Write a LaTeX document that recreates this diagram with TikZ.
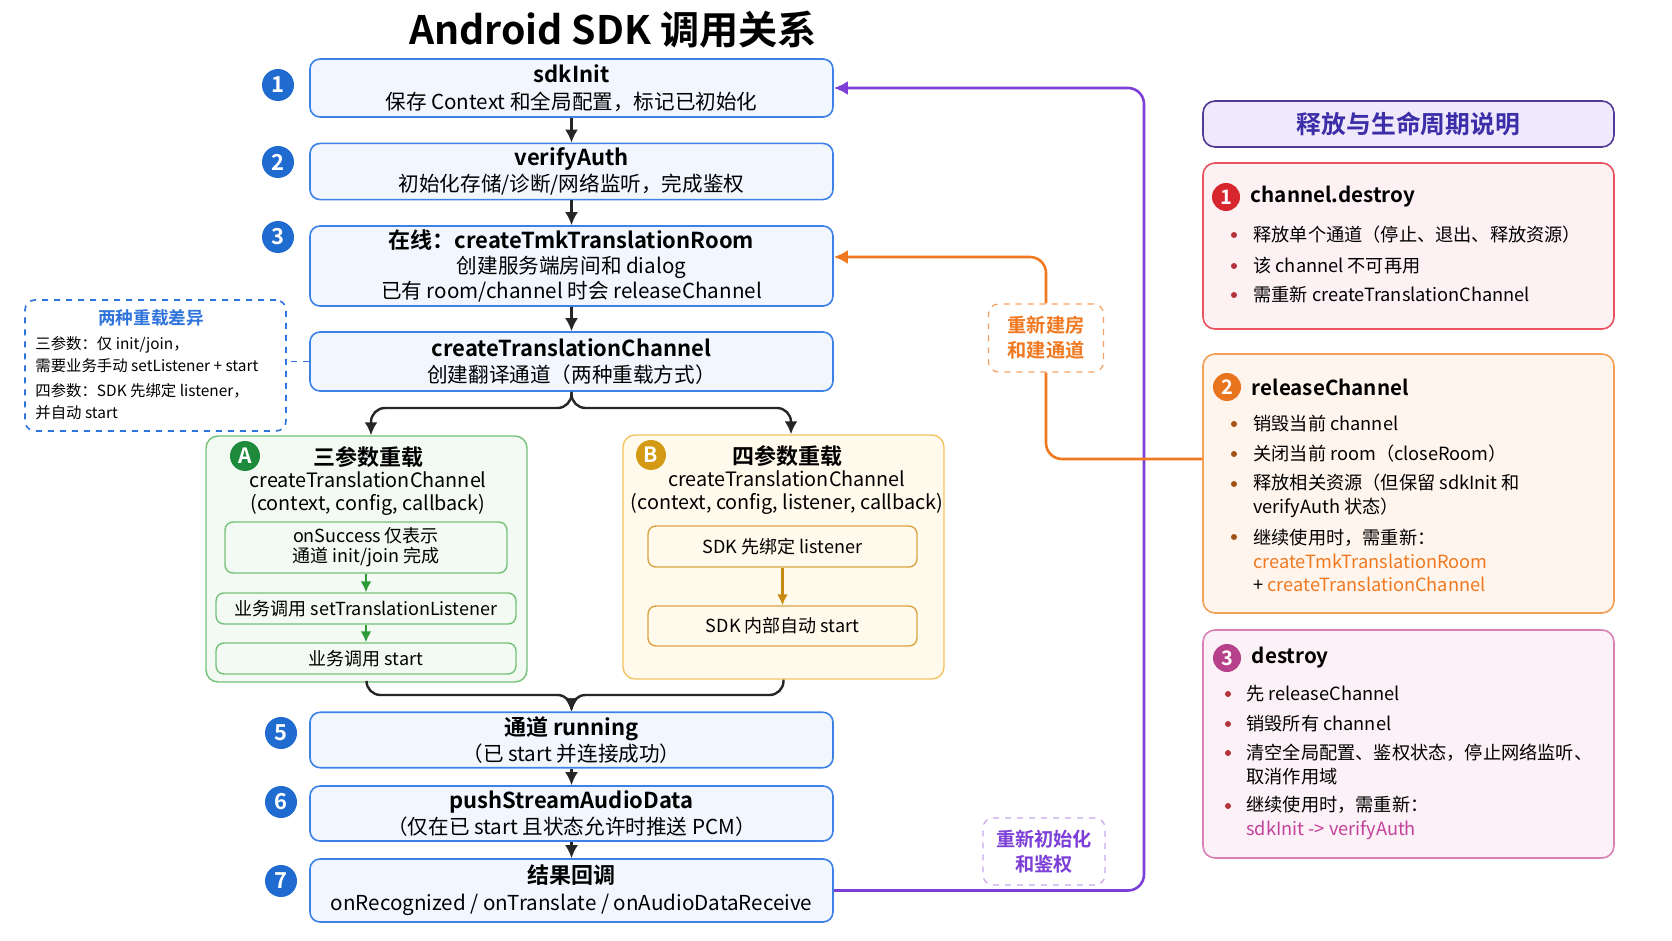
\documentclass[tikz,border=0pt]{standalone}
\usepackage{fontspec}
\setmainfont{Noto Sans CJK SC}[BoldFont={Noto Sans CJK SC Bold}]
\usetikzlibrary{arrows.meta,positioning,calc}

\definecolor{flowblue}{HTML}{3C82E6}
\definecolor{flowfill}{HTML}{F2F7FF}
\definecolor{numblue}{HTML}{1F6BD0}
\definecolor{diffblue}{HTML}{2F74DC}
\definecolor{aline}{HTML}{74C278}
\definecolor{afill}{HTML}{F3FAF3}
\definecolor{adotc}{HTML}{1E8A3C}
\definecolor{aarrow}{HTML}{2E9B3A}
\definecolor{bline}{HTML}{F4C462}
\definecolor{bfill}{HTML}{FFFAEC}
\definecolor{binline}{HTML}{D9A440}
\definecolor{bdotc}{HTML}{D49A14}
\definecolor{barrow}{HTML}{C9890F}
\definecolor{loopviolet}{HTML}{7C3FD8}
\definecolor{lblviolet}{HTML}{C7A6EE}
\definecolor{roomorange}{HTML}{F07820}
\definecolor{lblorange}{HTML}{F5A060}
\definecolor{hdrfill}{HTML}{F0E8FB}
\definecolor{hdrline}{HTML}{4F3A94}
\definecolor{hdrtext}{HTML}{3B2EA8}
\definecolor{pOneline}{HTML}{E9525E}
\definecolor{pOnefill}{HTML}{FDF1F3}
\definecolor{pOnedot}{HTML}{D8262F}
\definecolor{pTwoline}{HTML}{F2A055}
\definecolor{pTwofill}{HTML}{FFF5EC}
\definecolor{pTwodot}{HTML}{E8741E}
\definecolor{pThreeline}{HTML}{D982B6}
\definecolor{pThreefill}{HTML}{FCF1F7}
\definecolor{pThreedot}{HTML}{B8418C}
\definecolor{pThreetext}{HTML}{C2419B}
\definecolor{bulred}{HTML}{B5333A}

\newcommand\fsz[2]{\fontsize{#1}{#2}\selectfont}
\newcommand\boxttl{\bfseries\fsz{11}{13}}

\tikzset{
  mainbox/.style={draw=flowblue, fill=flowfill, line width=0.8pt, rounded corners=5pt, minimum width=261.5pt, align=center, inner sep=2pt, font=\fsz{10.3}{13.3}},
  stepnum/.style={circle, fill=numblue, text=white, font=\bfseries\fsz{11}{11}, minimum size=16pt, inner sep=0pt},
  flow/.style={-{Latex[length=6.5pt,width=6.5pt]}, line width=1.2pt, draw=black!85},
  abox/.style={draw=aline, fill=afill, line width=0.7pt, rounded corners=6pt},
  bbox/.style={draw=bline, fill=bfill, line width=0.7pt, rounded corners=6pt},
  ainner/.style={draw=aline, fill=afill, line width=0.7pt, rounded corners=4pt, align=center, inner sep=1pt, font=\fsz{9}{10}},
  binner/.style={draw=binline, fill=bfill, line width=0.7pt, rounded corners=4pt, align=center, inner sep=1pt, font=\fsz{9}{10}},
  aflow/.style={-{Latex[length=5.5pt,width=5.5pt]}, line width=1.1pt, draw=aarrow},
  bflow/.style={-{Latex[length=5.5pt,width=5.5pt]}, line width=1.1pt, draw=barrow},
  letterdot/.style={circle, fill=#1, text=white, font=\bfseries\fsz{10.5}{11}, minimum size=15pt, inner sep=0pt},
  grouptitle/.style={font=\bfseries\fsz{11}{12}, inner sep=0pt},
  groupsig/.style={align=center, font=\fsz{9.9}{11.5}, inner sep=0pt},
  diffbox/.style={draw=diffblue, dashed, line width=0.8pt, rounded corners=5pt},
  difftxt/.style={anchor=west, align=left, inner sep=0pt, font=\fsz{7.7}{11}},
  violetloop/.style={-{Latex[length=7pt,width=7pt]}, line width=1.3pt, draw=loopviolet},
  orangeline/.style={line width=1.3pt, draw=roomorange},
  orangeloop/.style={orangeline, -{Latex[length=7pt,width=7pt]}},
  looplbl/.style={draw=#1, dashed, line width=0.6pt, rounded corners=5pt, fill=white, align=center, font=\bfseries\fsz{9.6}{12.5}},
  hdrbox/.style={draw=hdrline, fill=hdrfill, line width=0.8pt, rounded corners=6pt, minimum width=205.5pt, minimum height=23pt, text=hdrtext, font=\bfseries\fsz{12.4}{13}},
  panel/.style 2 args={draw=#1, fill=#2, line width=0.8pt, rounded corners=6pt, minimum width=205.5pt},
  pdot/.style={circle, fill=#1, text=white, font=\bfseries\fsz{10}{11}, minimum size=14pt, inner sep=0pt},
  ptitle/.style={font=\bfseries\fsz{10.3}{12}, inner sep=0pt},
  bul/.style={circle, fill=#1, minimum size=3pt, inner sep=0pt},
  itemtxt/.style={anchor=west, align=left, inner sep=0pt, font=\fsz{9.1}{11.8}}
}

\begin{document}
\begin{tikzpicture}[x=0.5pt,y=-0.5pt]
\fill[white] (0,0) rectangle (1672,941);
\useasboundingbox (0,0) rectangle (1672,941);

\node[font=\bfseries\fsz{19.6}{24}] (title) at (613,30) {Android SDK 调用关系};

% main call chain
\node[mainbox, minimum height=29pt] (init) at (571.5,88) {{\boxttl sdkInit}\\保存 Context 和全局配置，标记已初始化};
\node[mainbox, minimum height=27.5pt] (auth) at (571.5,171.5) {{\boxttl verifyAuth}\\初始化存储/诊断/网络监听，完成鉴权};
\node[mainbox, minimum height=40pt, font=\fsz{10.3}{12.3}] (room) at (571.5,266) {{\boxttl 在线：createTmkTranslationRoom}\\创建服务端房间和 dialog\\已有 room/channel 时会 releaseChannel};
\node[mainbox, minimum height=29.5pt] (chan) at (571.5,361.5) {{\boxttl createTranslationChannel}\\创建翻译通道（两种重载方式）};
\node[mainbox, minimum height=26pt] (run) at (571.5,740) {{\boxttl 通道 running}\\（已 start 并连接成功）};
\node[mainbox, minimum height=27.5pt] (push) at (571.5,813.5) {{\boxttl pushStreamAudioData}\\（仅在已 start 且状态允许时推送 PCM）};
\node[mainbox, minimum height=31.5pt] (cb) at (571.5,890.5) {{\boxttl 结果回调}\\onRecognized / onTranslate / onAudioDataReceive};

\node[stepnum] (n1) at (278,85) {1};
\node[stepnum] (n2) at (278,162) {2};
\node[stepnum] (n3) at (278,237) {3};
\node[stepnum] (n5) at (281,733) {5};
\node[stepnum] (n6) at (281,802) {6};
\node[stepnum] (n7) at (281,881) {7};

\draw[flow] (init) -- (auth);
\draw[flow] (auth) -- (room);
\draw[flow] (room) -- (chan);
\draw[flow] (run) -- (push);
\draw[flow] (push) -- (cb);

% three-argument overload
\node[abox, minimum width=160.5pt, minimum height=123pt] (three) at (366.5,559) {};
\node[letterdot=adotc] (dotA) at (245,456) {A};
\node[grouptitle] (threettl) at (368,457) {三参数重载};
\node[groupsig] (threesig) at (368,494) {createTranslationChannel\\(context, config, callback)};
\node[ainner, minimum width=141pt, minimum height=25.5pt] (onok) at (366,547.5) {onSuccess 仅表示\\通道 init/join 完成};
\node[ainner, minimum width=150pt, minimum height=15.5pt] (setl) at (366,608.5) {业务调用 setTranslationListener};
\node[ainner, minimum width=150pt, minimum height=15.5pt] (astart) at (366,658.5) {业务调用 start};
\draw[aflow] (onok) -- (setl);
\draw[aflow] (setl) -- (astart);

% four-argument overload
\node[bbox, minimum width=160.5pt, minimum height=122pt] (four) at (783.5,557) {};
\node[letterdot=bdotc] (dotB) at (651,455) {B};
\node[grouptitle] (fourttl) at (787,456) {四参数重载};
\node[groupsig] (foursig) at (787,493) {createTranslationChannel\\(context, config, listener, callback)};
\node[binner, minimum width=134.5pt, minimum height=20.5pt] (bind) at (782.5,546.5) {SDK 先绑定 listener};
\node[binner, minimum width=134.5pt, minimum height=20pt] (autost) at (782.5,626) {SDK 内部自动 start};
\draw[bflow] (bind) -- (autost);

% fork and join
\coordinate (forkA) at (371,408);
\coordinate (forkB) at (791,408);
\coordinate (join) at (571.5,695);
\draw[flow, rounded corners=7pt] (chan.south) |- (forkA) -- (forkA |- three.north);
\draw[flow, rounded corners=7pt] (chan.south) |- (forkB) -- (forkB |- four.north);
\draw[flow, rounded corners=7pt] (three.south) |- (join) -- (run.north);
\draw[flow, rounded corners=7pt] (four.south) |- (join) -- (run.north);

% overload note
\node[diffbox, minimum width=130.5pt, minimum height=65.5pt] (diff) at (155.5,365.5) {};
\node[font=\bfseries\fsz{8.8}{10}, text=diffblue, inner sep=0pt] (diffttl) at (151,318) {两种重载差异};
\node[difftxt] (diffthree) at (35,355) {三参数：仅 init/join，\\需要业务手动 setListener + start};
\node[difftxt] (difffour) at (35,401.5) {四参数：SDK 先绑定 listener，\\并自动 start};
\draw[diffblue, dashed, line width=0.8pt] (chan.west) -- (chan.west -| diff.east);

% lifecycle notes
\node[hdrbox] (hdr) at (1408.5,124) {释放与生命周期说明};

\node[panel={pOneline}{pOnefill}, minimum height=83pt] (chdestroy) at (1408.5,246) {};
\node[pdot=pOnedot] (c1) at (1226,197) {1};
\node[ptitle, right=5pt of c1] (chdestroyttl) {channel.destroy};
\node[bul=bulred] (d1a) at (1234,235) {};
\node[itemtxt] (t1a) at (1253,235) {释放单个通道（停止、退出、释放资源）};
\node[bul=bulred] (d1b) at (1234,266) {};
\node[itemtxt] (t1b) at (1253,266) {该 channel 不可再用};
\node[bul=bulred] (d1c) at (1234,295) {};
\node[itemtxt] (t1c) at (1253,295) {需重新 createTranslationChannel};

\node[panel={pTwoline}{pTwofill}, minimum height=129.5pt] (rel) at (1408.5,483.5) {};
\node[pdot=pTwodot] (c2) at (1227,387) {2};
\node[ptitle, right=5pt of c2] (relttl) {releaseChannel};
\node[bul=pTwodot!70!black] (d2a) at (1234,424) {};
\node[itemtxt] (t2a) at (1253,424) {销毁当前 channel};
\node[bul=pTwodot!70!black] (d2b) at (1234,454) {};
\node[itemtxt] (t2b) at (1253,454) {关闭当前 room（closeRoom）};
\node[bul=pTwodot!70!black] (d2c) at (1234,484) {};
\node[itemtxt] (t2c) at (1253,496) {释放相关资源（但保留 sdkInit 和\\verifyAuth 状态）};
\node[bul=pTwodot!70!black] (d2d) at (1234,537) {};
\node[itemtxt] (t2d) at (1253,560.5) {继续使用时，需重新：\\{\color{roomorange}createTmkTranslationRoom}\\+ {\color{roomorange}createTranslationChannel}};

\node[panel={pThreeline}{pThreefill}, minimum height=114pt] (sdkdestroy) at (1408.5,744) {};
\node[pdot=pThreedot] (c3) at (1227,658) {3};
\node[ptitle, right=5pt of c3] (sdkdestroyttl) {destroy};
\node[bul=bulred] (d3a) at (1228,694) {};
\node[itemtxt] (t3a) at (1246,694) {先 releaseChannel};
\node[bul=bulred] (d3b) at (1228,724) {};
\node[itemtxt] (t3b) at (1246,724) {销毁所有 channel};
\node[bul=bulred] (d3c) at (1228,753) {};
\node[itemtxt] (t3c) at (1246,764.5) {清空全局配置、鉴权状态，停止网络监听、\\取消作用域};
\node[bul=bulred] (d3d) at (1228,806) {};
\node[itemtxt] (t3d) at (1246,818) {继续使用时，需重新：\\{\color{pThreetext}sdkInit -> verifyAuth}};

% loop-backs
\node[looplbl=lblorange, text=roomorange, minimum width=57.5pt, minimum height=34pt] (rebuild) at (1046,338) {重新建房\\和建通道};
\node[looplbl=lblviolet, text=loopviolet, minimum width=61pt, minimum height=33.5pt] (reinit) at (1044,851.5) {重新初始化\\和鉴权};
\coordinate (loopR) at (1144,500);
\draw[violetloop, rounded corners=8pt] (cb.east) -| (loopR) |- (init.east);
\draw[orangeline, rounded corners=8pt] ($(rel.west)+(0,-24.5)$) -| (rebuild.south);
\draw[orangeloop, rounded corners=8pt] (rebuild.north) |- ($(room.east)+(0,-9)$);
\end{tikzpicture}
\end{document}
